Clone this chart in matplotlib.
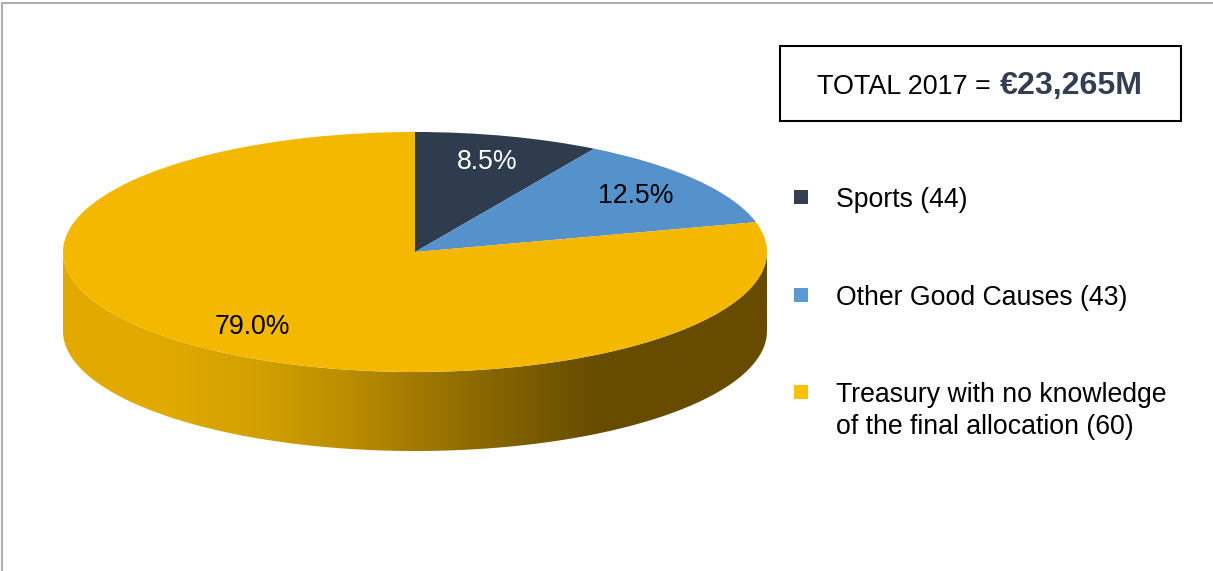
import matplotlib
matplotlib.use("Agg")
import matplotlib.pyplot as plt
from matplotlib.colors import LinearSegmentedColormap
from matplotlib.patches import Polygon, Rectangle
import numpy as np

shares = [8.5, 12.5, 79.0]
share_labels = ["8.5%", "12.5%", "79.0%"]
legend_labels = ["Sports (44)", "Other Good Causes (43)",
                 "Treasury with no knowledge\nof the final allocation (60)"]
total_label = "TOTAL 2017 ="
total_value = "€23,265M"

W, H = 1213, 571
CX, CY, RX, RY, DEPTH = 415, 252, 352, 120, 79

plt.rcParams['font.family'] = ['Liberation Sans', 'DejaVu Sans']

fig = plt.figure(figsize=(W / 100, H / 100), dpi=100)

# pie axes: one data unit is the radius, stretched to the flat ellipse
ax = fig.add_axes([0, 0, 1, 1])
ax.pie(shares, startangle=90, counterclock=False, radius=1,
       colors=["#2F3C4E", "#5591CB", "#F4B800"], wedgeprops={"linewidth": 0})
ax.set_aspect('auto')
xlim = ((0 - CX) / RX, (W - CX) / RX)
ylim = ((CY - H) / RY, CY / RY)
ax.set_xlim(xlim)
ax.set_ylim(ylim)
ax.axis('off')

# rim of the pie with the horizontal shading
depth = DEPTH / RY
t = np.linspace(np.pi, 2 * np.pi, 300)
xs = np.cos(t)
ys = np.sin(t)
rim = Polygon(np.vstack([np.column_stack([xs, ys]),
                         np.column_stack([xs[::-1], ys[::-1] - depth])]),
              closed=True, transform=ax.transData, facecolor='none', edgecolor='none')
ax.add_patch(rim)
stops = [(0.0, "#E2AA00"), (0.13, "#E2AA00"), (0.28, "#D2A000"), (0.40, "#BC8E00"),
         (0.51, "#A07800"), (0.64, "#806000"), (0.76, "#674C00"), (1.0, "#674C00")]
cmap = LinearSegmentedColormap.from_list("rim", stops)
img = ax.imshow(np.linspace(0, 1, 512).reshape(1, -1), cmap=cmap, aspect='auto',
                extent=(-1, 1, -1 - depth, 0), zorder=0.5, interpolation='bilinear')
img.set_clip_path(rim)
ax.set_xlim(xlim)
ax.set_ylim(ylim)

# overlay in picture pixels for labels, box and legend
ov = fig.add_axes([0, 0, 1, 1])
ov.set_xlim(0, W)
ov.set_ylim(H, 0)
ov.axis('off')

label_pos = [(487, 162), (636, 196), (252, 327)]
label_cols = ["white", "black", "black"]
for s, (x, y), c in zip(share_labels, label_pos, label_cols):
    ov.text(x, y, s, color=c, fontsize=19.2, ha='center', va='center')

# frame of the original slide, only top and left
ov.plot([2, W], [3, 3], color="#A0A0A0", lw=1.2)
ov.plot([2, 2], [3, H], color="#B0B0B0", lw=1.5)

ov.add_patch(Rectangle((780, 46), 401, 75, facecolor='white', edgecolor='black', lw=1.5))
ov.text(817, 87, total_label, fontsize=19.4, color='black', ha='left', va='center')
ov.text(1000, 86, total_value, fontsize=23.2, color="#333F50", fontweight='bold',
        ha='left', va='center')

legend_cols = ["#333F50", "#5B9BD5", "#FFC000"]
legend_y = [197, 295, 392]
for lab, c, y in zip(legend_labels, legend_cols, legend_y):
    ov.add_patch(Rectangle((794, y - 7), 14, 14, facecolor=c, edgecolor='none'))
    ov.text(836, y - 10, lab, fontsize=19.2, color="black", ha='left', va='top',
            linespacing=1.3)

fig.savefig("out.png", dpi=100)
